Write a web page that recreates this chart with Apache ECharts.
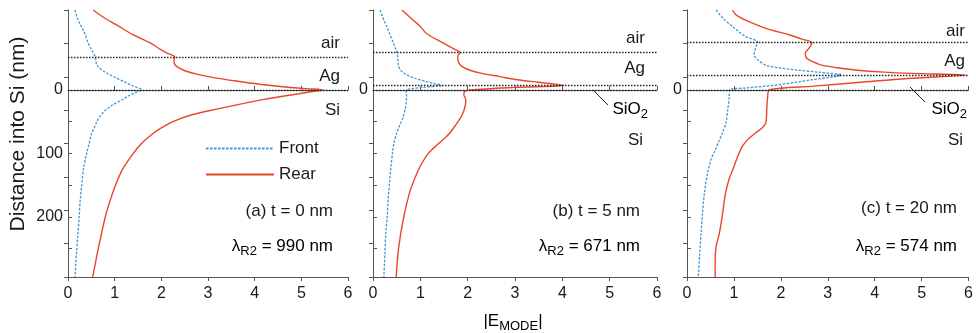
<!DOCTYPE html>
<html>
<head>
<meta charset="utf-8">
<script src="https://cdn.jsdelivr.net/npm/echarts@6/dist/echarts.min.js"></script>
<style>
  html, body { margin: 0; padding: 0; background: #fff; }
  #chart { width: 976px; height: 333px; }
</style>
</head>
<body>
<div id="chart"></div>
<script>
// ---- data (depth in nm, negative = above Si surface) ----
const xTicks = [0, 1, 2, 3, 4, 5, 6];
const depthTicks = [0, 50, 100, 150, 200, 250];
const depthLabelsA = [0, 100, 200];
const depthLabelsBC = [0];

// (a) t = 0 nm
const interfacesA = [-52, 0];
const frontDepthA = [-126, -115, -105, -95, -85, -74, -64, -56, -52, -46, -40, -34, -28, -20, -13, -6, 0, 5, 10, 16, 24, 31, 40, 50, 60, 70, 85, 100, 125, 153, 175, 200, 230, 260, 295];
const frontA = [0.15, 0.19, 0.25, 0.32, 0.38, 0.43, 0.5, 0.56, 0.58, 0.6, 0.61, 0.68, 0.8, 1.0, 1.2, 1.4, 1.58, 1.42, 1.28, 1.15, 0.95, 0.82, 0.7, 0.62, 0.56, 0.5, 0.45, 0.4, 0.33, 0.29, 0.26, 0.24, 0.21, 0.18, 0.15];
const rearDepthA = [-126, -115, -102, -87, -74, -64, -58, -52, -50, -45, -39, -34, -29, -24, -19, -14, -9, -5, -2, 0, 3, 6, 10, 15, 20, 30, 40, 50, 60, 70, 85, 100, 125, 150, 175, 200, 250, 295];
const rearA = [0.54, 0.75, 1.05, 1.39, 1.76, 1.98, 2.12, 2.29, 2.28, 2.27, 2.3, 2.4, 2.55, 2.8, 3.15, 3.6, 4.1, 4.6, 5.1, 5.46, 5.2, 4.95, 4.6, 4.2, 3.85, 3.2, 2.62, 2.25, 2.0, 1.8, 1.57, 1.4, 1.17, 1.02, 0.9, 0.8, 0.65, 0.53];

// (b) t = 5 nm
const interfacesB = [-59, -7, 0];
const frontDepthB = [-126, -110, -100, -87, -74, -64, -59, -52, -44, -37, -30, -24, -18, -13, -10, -7, -4, 0, 5, 10, 20, 30, 42, 55, 68, 85, 100, 121, 145, 173, 200, 226, 260, 295];
const frontB = [0.15, 0.23, 0.29, 0.36, 0.43, 0.48, 0.51, 0.52, 0.53, 0.54, 0.6, 0.71, 0.9, 1.13, 1.3, 1.45, 1.05, 0.71, 0.7, 0.71, 0.7, 0.68, 0.64, 0.57, 0.5, 0.44, 0.41, 0.38, 0.35, 0.32, 0.3, 0.27, 0.25, 0.23];
const rearDepthB = [-126, -110, -100, -89, -74, -65, -59, -55, -50, -42, -36, -31, -26, -21, -16, -12, -7, -4, 0, 3, 8, 15, 25, 40, 55, 70, 85, 100, 120, 140, 160, 200, 250, 295];
const rearB = [0.61, 0.85, 1.0, 1.13, 1.48, 1.7, 1.84, 1.8, 1.79, 1.82, 1.9, 2.05, 2.3, 2.68, 3.05, 3.5, 4.03, 3.0, 2.05, 1.93, 1.92, 1.96, 1.95, 1.88, 1.75, 1.6, 1.38, 1.17, 1.0, 0.88, 0.78, 0.65, 0.54, 0.49];

// (c) t = 20 nm
const interfacesC = [-75, -23.6, 0];
const frontDepthC = [-126, -112, -100, -92, -84, -75, -70, -63, -55, -48, -39, -35, -31.5, -28, -23.6, -16, -8, -3, 0, 10, 30, 52, 65, 79, 95, 110, 135, 163, 195, 226, 260, 295];
const frontC = [0.62, 0.78, 0.97, 1.1, 1.25, 1.51, 1.48, 1.45, 1.43, 1.5, 1.68, 1.95, 2.32, 2.8, 3.29, 2.66, 1.95, 1.25, 0.9, 0.9, 0.87, 0.83, 0.77, 0.69, 0.6, 0.51, 0.43, 0.37, 0.33, 0.3, 0.27, 0.24];
const rearDepthC = [-126, -118, -110, -97, -87, -80, -75, -70, -64, -58, -50, -44, -39, -35, -31.5, -28, -26, -23.6, -18, -12, -6, 0, 10, 30, 52, 60, 68, 78, 89, 105, 121, 140, 163, 194, 226, 247, 270, 295];
const rearC = [0.97, 1.05, 1.25, 1.68, 2.17, 2.45, 2.66, 2.64, 2.58, 2.52, 2.55, 2.7, 2.87, 3.2, 3.58, 4.2, 4.78, 5.94, 4.7, 3.7, 2.7, 1.75, 1.72, 1.7, 1.68, 1.6, 1.46, 1.3, 1.18, 1.08, 1.0, 0.9, 0.82, 0.76, 0.69, 0.62, 0.6, 0.6];

const panelTags = ['(a) t = 0 nm', '(b) t = 5 nm', '(c) t = 20 nm'];
const lambdaR2 = ['990', '671', '574'];

// ---- layout ----
const FONT = '"Liberation Sans", Arial, Helvetica, sans-serif';
const BLUE = '#3b97d9';
const RED = '#e8472b';
const FRAME = '#555';
const TEXT = '#1a1a1a';

const grids = [
  { left: 68, width: 280, top: 10, height: 267 },
  { left: 373, width: 284, top: 10, height: 267 },
  { left: 687, width: 284, top: 10, height: 267 }
];

const panels = [
  { front: [frontDepthA, frontA], rear: [rearDepthA, rearA], interfaces: interfacesA, labels: depthLabelsA },
  { front: [frontDepthB, frontB], rear: [rearDepthB, rearB], interfaces: interfacesB, labels: depthLabelsBC },
  { front: [frontDepthC, frontC], rear: [rearDepthC, rearC], interfaces: interfacesC, labels: depthLabelsBC }
];

const pairs = (depths, vals) => depths.map((d, i) => [vals[i], d]);

const xAxis = [];
const yAxis = [];
const series = [];

panels.forEach((p, i) => {
  const tick = { inside: true, length: 4, lineStyle: { color: FRAME } };
  const line = { show: true, lineStyle: { color: FRAME, width: 1 } };
  xAxis.push({
    gridIndex: i, type: 'value', min: 0, max: 6, interval: 1, position: 'bottom',
    axisLine: line, axisTick: tick, splitLine: { show: false },
    axisLabel: { color: TEXT, fontSize: 16, fontFamily: FONT, margin: 9 }
  });
  xAxis.push({
    gridIndex: i, type: 'value', min: 0, max: 6, interval: 1, position: 'top',
    axisLine: line, axisTick: tick, splitLine: { show: false }, axisLabel: { show: false }
  });
  yAxis.push({
    gridIndex: i, type: 'value', inverse: true, min: -126, max: 295, position: 'left',
    axisLine: line,
    axisTick: { inside: true, length: 4, lineStyle: { color: FRAME }, customValues: depthTicks },
    splitLine: { show: false },
    axisLabel: { color: TEXT, fontSize: 16, fontFamily: FONT, margin: 5, customValues: p.labels }
  });
  yAxis.push({
    gridIndex: i, type: 'value', min: 0, max: 8, interval: 1, position: 'right',
    axisLine: line, axisTick: tick, splitLine: { show: false }, axisLabel: { show: false }
  });

  series.push({
    name: 'Front', type: 'line', xAxisIndex: 2 * i, yAxisIndex: 2 * i,
    data: pairs(p.front[0], p.front[1]),
    showSymbol: false, symbol: 'none', smooth: 0.3,
    lineStyle: { color: BLUE, width: 1.3, type: [2.5, 1.5] },
    itemStyle: { color: BLUE },
    markLine: {
      silent: true, symbol: ['none', 'none'], label: { show: false },
      lineStyle: { color: '#222', width: 1.3, type: [1.5, 1.5] },
      data: p.interfaces.map(v => ({ yAxis: v }))
    },
    z: 3
  });
  series.push({
    name: 'Rear', type: 'line', xAxisIndex: 2 * i, yAxisIndex: 2 * i,
    data: pairs(p.rear[0], p.rear[1]),
    showSymbol: false, symbol: 'none', smooth: 0.3,
    lineStyle: { color: RED, width: 1.4 },
    itemStyle: { color: RED },
    z: 3
  });
});

// ---- text annotations ----
const rich = {
  m: { fontSize: 17, fontFamily: FONT, color: TEXT, lineHeight: 20, verticalAlign: 'top', padding: [0, 0, 7, 0] },
  s: { fontSize: 13, fontFamily: FONT, color: TEXT, lineHeight: 14, verticalAlign: 'bottom' }
};
const txt = (x, y, text, align) => ({
  type: 'text', x, y,
  style: { text, fill: TEXT, font: '17px ' + FONT, align: align || 'right', verticalAlign: 'middle' }
});
const richTxt = (x, y, text) => ({
  type: 'text', x, y,
  style: { text, rich, align: 'right', verticalAlign: 'middle' }
});

const layerLabels = [
  [['air', 43], ['Ag', 76], ['Si', 110]],
  [['air', 38], ['Ag', 68], ['SiO2', 107], ['Si', 140]],
  [['air', 31], ['Ag', 61], ['SiO2', 107], ['Si', 140]]
];
const labelRight = [[340, 340, 340], [645, 645, 648, 643], [965, 965, 967, 963]];
const tagRight = [333, 640, 957];
const tagY = [211, 211, 208];

const graphic = [];
layerLabels.forEach((labs, i) => {
  labs.forEach(([name, y], k) => {
    if (name === 'SiO2') graphic.push(richTxt(labelRight[i][k], y + 4, '{m|SiO}{s|2}'));
    else graphic.push(txt(labelRight[i][k], y, name));
  });
  graphic.push(txt(tagRight[i], tagY[i], panelTags[i]));
  graphic.push(richTxt(tagRight[i], 248, '{m|λ}{s|R2}{m| = ' + lambdaR2[i] + ' nm}'));
});
// leader lines to the SiO2 layer
graphic.push({ type: 'line', shape: { x1: 593, y1: 90, x2: 608, y2: 105 }, style: { stroke: '#222', lineWidth: 1 } });
graphic.push({ type: 'line', shape: { x1: 910, y1: 87, x2: 925, y2: 102 }, style: { stroke: '#222', lineWidth: 1 } });
// axis titles
graphic.push({
  type: 'text', x: 18, y: 134, rotation: Math.PI / 2,
  style: { text: 'Distance into Si (nm)', fill: TEXT, font: '21px ' + FONT, align: 'center', verticalAlign: 'middle' }
});
graphic.push({
  type: 'text', x: 513, y: 323,
  style: {
    text: '{a||E}{b|MODE}{a||}', align: 'center', verticalAlign: 'middle',
    rich: {
      a: { fontSize: 17, fontFamily: FONT, color: TEXT, lineHeight: 20, verticalAlign: 'top', padding: [0, 0, 2, 0] },
      b: { fontSize: 13, fontFamily: FONT, color: TEXT, lineHeight: 16, verticalAlign: 'bottom' }
    }
  }
});

const chart = echarts.init(document.getElementById('chart'), null, { renderer: 'canvas' });
chart.setOption({
  animation: false,
  backgroundColor: '#fff',
  grid: grids,
  xAxis,
  yAxis,
  series,
  legend: {
    data: ['Front', 'Rear'],
    orient: 'vertical', left: 200, top: 135,
    itemWidth: 68, itemHeight: 10, itemGap: 9,
    itemStyle: { opacity: 0, borderWidth: 0 },
    textStyle: { fontSize: 17, fontFamily: FONT, color: TEXT }
  },
  graphic
});
</script>
</body>
</html>
